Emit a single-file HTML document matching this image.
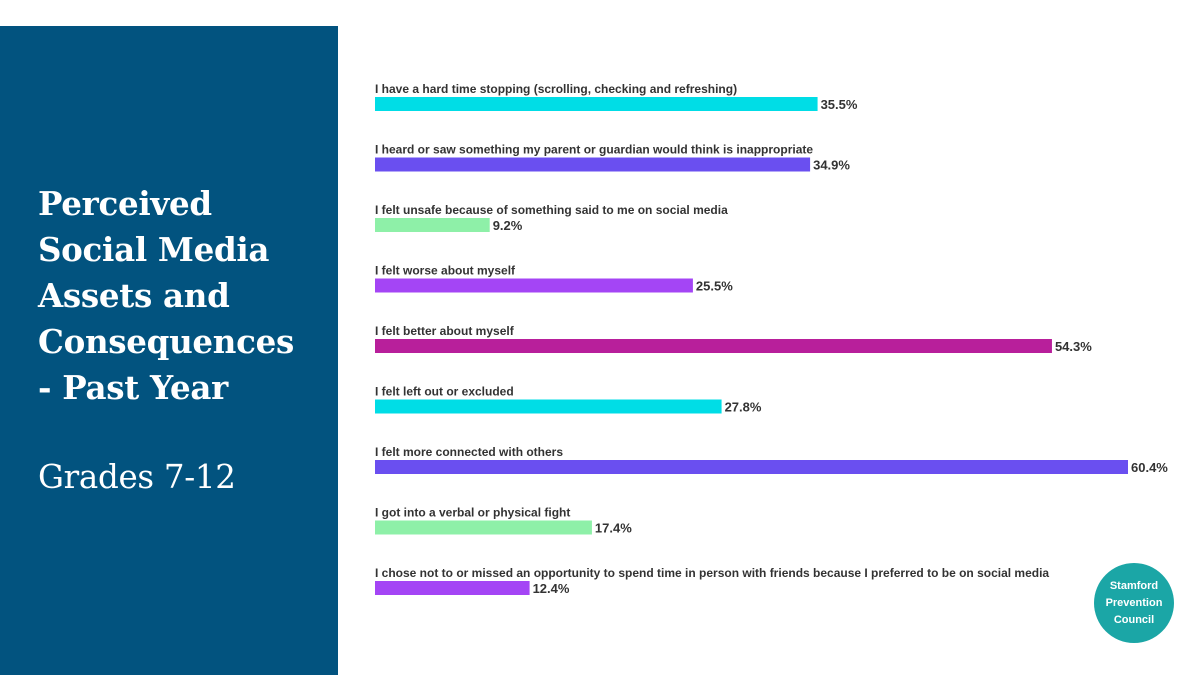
<!DOCTYPE html>
<html><head><meta charset="utf-8"><style>
body{margin:0;width:1200px;height:675px;background:#fff;position:relative;overflow:hidden;font-family:"Liberation Sans",sans-serif}
#panel{position:absolute;left:0;top:26px;width:338px;height:649px;background:#02537f}
#title{position:absolute;left:38px;top:181px;color:#fff;font-family:"DejaVu Serif","Liberation Serif",serif;font-weight:bold;font-size:32.5px;line-height:46px;letter-spacing:-0.3px}
#sub{position:absolute;left:38px;top:458px;color:#fff;font-family:"DejaVu Serif","Liberation Serif",serif;font-size:32.5px;letter-spacing:-0.3px}
#logo{position:absolute;left:1094px;top:563px;width:80px;height:80px;border-radius:50%;background:#1ba6a6;color:#fff;font-size:11px;font-weight:bold;text-align:center;display:flex;align-items:center;justify-content:center;line-height:17px}
</style></head><body>
<div id="panel"></div>
<div id="title">Perceived<br>Social Media<br>Assets and<br>Consequences<br>- Past Year</div>
<div id="sub">Grades 7-12</div>
<svg id="chart" width="1200" height="675" style="position:absolute;left:0;top:0"></svg>
<div id="logo">Stamford<br>Prevention<br>Council</div>
<script>
const categories=["I have a hard time stopping (scrolling, checking and refreshing)","I heard or saw something my parent or guardian would think is inappropriate","I felt unsafe because of something said to me on social media","I felt worse about myself","I felt better about myself","I felt left out or excluded","I felt more connected with others","I got into a verbal or physical fight","I chose not to or missed an opportunity to spend time in person with friends because I preferred to be on social media"];
const values=[35.5,34.9,9.2,25.5,54.3,27.8,60.4,17.4,12.4];
const colors=["#00dde6","#6a4ff0","#8ef0a8","#a445f5","#b81f9b","#00dde6","#6a4ff0","#8ef0a8","#a445f5"];
const svg=document.getElementById('chart');
const NS="http://www.w3.org/2000/svg";
const x0=375, pxPer=(1128-375)/60.4;
const xs=v=>v*pxPer;
const yRow=i=>97+i*60.5;
categories.forEach((c,i)=>{
  const y=yRow(i);
  const t=document.createElementNS(NS,'text');
  
  
  t.setAttribute('x',x0);t.setAttribute('y',y-4);
  t.setAttribute('font-size','12');t.setAttribute('font-weight','bold');t.setAttribute('fill','#333');
  t.textContent=c;svg.appendChild(t);
  const r=document.createElementNS(NS,'rect');
  
  
  r.setAttribute('x',x0);r.setAttribute('y',y);r.setAttribute('width',xs(values[i]));r.setAttribute('height',14);
  r.setAttribute('fill',colors[i]);svg.appendChild(r);
  const v=document.createElementNS(NS,'text');
  
  
  v.setAttribute('x',x0+xs(values[i])+3);v.setAttribute('y',y+12);
  v.setAttribute('font-size','13');v.setAttribute('font-weight','bold');v.setAttribute('fill','#333');
  v.textContent=values[i].toFixed(1)+'%';svg.appendChild(v);
});
</script>
</body></html>
